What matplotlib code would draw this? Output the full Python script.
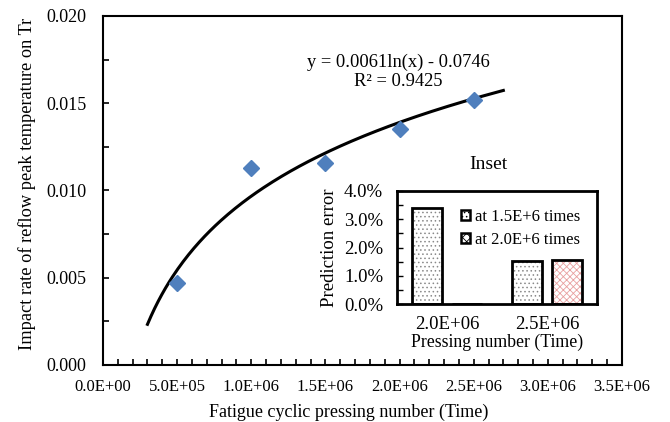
import numpy as np
import matplotlib.pyplot as plt
from matplotlib.ticker import FuncFormatter, MultipleLocator
from matplotlib.patches import Patch

plt.rcParams['font.family'] = ['Liberation Serif', 'DejaVu Serif']
plt.rcParams['hatch.linewidth'] = 0.6

# main chart data
pressNum = [5.0e5, 1.0e6, 1.5e6, 2.0e6, 2.5e6]
impactRate = [0.0047, 0.0113, 0.0116, 0.0135, 0.0152]
fitA = 0.0061
fitB = -0.0746
fitStart = 3.0e5
fitEnd = 2.7e6

# inset data
insetCats = ['2.0E+06', '2.5E+06']
errAt15 = [0.034, 0.0151]
errAt20 = [0.0, 0.0156]
insetSeries = ['at 1.5E+6 times', 'at 2.0E+6 times']

fig = plt.figure(figsize=(6.7, 4.22), dpi=100)
ax = fig.add_axes([0.1537, 0.1351, 0.7746, 0.827])

fitX = np.linspace(fitStart, fitEnd, 200)
ax.plot(fitX, fitA * np.log(fitX) + fitB, color='black', lw=2.2, zorder=2)
ax.plot(pressNum, impactRate, linestyle='none', marker='D', markersize=8,
        color='#4f7fbd', zorder=3)

ax.set_xlim(0, 3.5e6)
ax.set_ylim(0, 0.020)
ax.xaxis.set_major_locator(MultipleLocator(5e5))
ax.xaxis.set_minor_locator(MultipleLocator(1e5))
ax.yaxis.set_major_locator(MultipleLocator(0.005))
ax.yaxis.set_minor_locator(MultipleLocator(0.0025))
ax.xaxis.set_major_formatter(FuncFormatter(lambda v, p: f"{v:.1E}"))
ax.yaxis.set_major_formatter(FuncFormatter(lambda v, p: f"{v:.3f}"))
ax.tick_params(which='both', direction='in', length=4, width=1.2)
ax.tick_params(axis='x', labelsize=12, pad=10)
ax.tick_params(axis='y', labelsize=13, pad=12)
for s in ax.spines.values():
    s.set_linewidth(1.5)

ax.set_xlabel('Fatigue cyclic pressing number (Time)', fontsize=13)
ax.xaxis.set_label_coords(0.473, -0.112)
ax.set_ylabel('Impact rate of reflow peak temperature on Tr', fontsize=13.2)
ax.yaxis.set_label_coords(-0.129, 0.519)

# trendline equation
ax.text(0.569, 0.84, 'y = 0.0061ln(x) - 0.0746\nR\u00b2 = 0.9425', transform=ax.transAxes,
        ha='center', va='center', fontsize=13.3, linespacing=1.15)

# inset
ins = fig.add_axes([0.5925, 0.2796, 0.2985, 0.2678])
xpos = np.arange(len(insetCats))
w = 0.3
ins.bar(xpos - 0.2, errAt15, w, color='white', edgecolor='#8a8a8a', hatch='....', lw=0, zorder=2)
ins.bar(xpos - 0.2, errAt15, w, fill=False, edgecolor='black', lw=2, zorder=3)
ins.bar(xpos + 0.2, errAt20, w, color='white', edgecolor='#e8a0a0', hatch='xxxxx', lw=0, zorder=2)
ins.bar(xpos + 0.2, errAt20, w, fill=False, edgecolor='black', lw=2, zorder=3)

ins.set_xlim(-0.5, 1.5)
ins.set_ylim(0, 0.04)
ins.set_xticks(xpos)
ins.set_xticklabels(insetCats)
ins.yaxis.set_major_locator(MultipleLocator(0.01))
ins.yaxis.set_minor_locator(MultipleLocator(0.005))
ins.yaxis.set_major_formatter(FuncFormatter(lambda v, p: f"{v:.1%}"))
ins.tick_params(axis='y', which='both', direction='in', length=4, width=1, labelsize=13.5, pad=10)
ins.tick_params(axis='x', length=0, labelsize=13.5, pad=8.5)
for s in ins.spines.values():
    s.set_linewidth(2)
ins.set_xlabel('Pressing number (Time)', fontsize=12.8, labelpad=0.5)
ins.set_ylabel('Prediction error', fontsize=13.5, labelpad=4)
ins.set_title('Inset', fontsize=14, pad=16, x=0.455)

handles = [Patch(facecolor='white', edgecolor='black', hatch='....', lw=1.8),
           Patch(facecolor='white', edgecolor='black', hatch='xxxx', lw=1.8)]
ins.legend(handles, insetSeries, loc='upper right', bbox_to_anchor=(0.915, 0.84),
           frameon=False, fontsize=12, borderpad=0, borderaxespad=0,
           handlelength=0.5, handleheight=0.5, handletextpad=0.3, labelspacing=0.4)

fig.savefig('out.png', dpi=100)
